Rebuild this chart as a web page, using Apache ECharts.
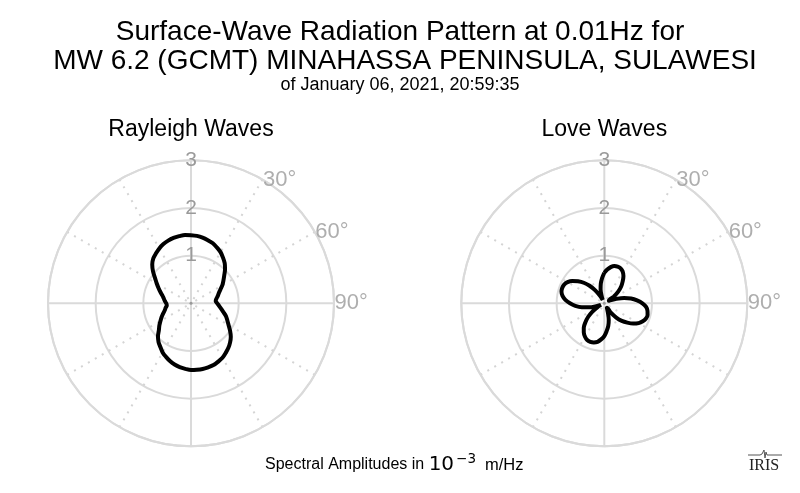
<!DOCTYPE html>
<html><head><meta charset="utf-8">
<script src="https://cdn.jsdelivr.net/npm/echarts@6/dist/echarts.min.js"></script>
<style>html,body{margin:0;padding:0;background:#fff}#c{width:800px;height:493px}</style>
</head><body><div id="c"></div>
<script>
const titleLines = ['Surface-Wave Radiation Pattern at 0.01Hz for', 'MW 6.2 (GCMT) MINAHASSA PENINSULA, SULAWESI', 'of January 06, 2021, 20:59:35'];
const panelTitles = ['Rayleigh Waves', 'Love Waves'];
const radiusMax = 3;
const radiusInterval = 1;
const angleLabelTicks = [30, 60, 90];
const azimuth = [0,5,10,15,20,25,30,35,40,45,50,55,60,65,70,75,80,85,90,95,100,105,110,115,
  120,125,130,135,140,145,150,155,160,165,170,175,180,185,190,195,200,205,210,215,220,225,230,235,
  240,245,250,255,260,265,270,275,280,285,290,295,300,305,310,315,320,325,330,335,340,345,350,355];
const rayleighAmplitude = [1.43,1.42,1.40,1.37,1.34,1.29,1.24,1.17,1.10,1.01,0.91,0.83,
  0.76,0.68,0.62,0.58,0.54,0.52,0.55,0.59,0.64,0.70,0.78,0.84,
  0.91,1.00,1.09,1.16,1.22,1.27,1.32,1.35,1.38,1.39,1.40,1.40,
  1.40,1.38,1.36,1.33,1.29,1.24,1.19,1.12,1.06,0.98,0.88,0.81,
  0.74,0.68,0.62,0.57,0.54,0.51,0.52,0.55,0.58,0.62,0.68,0.75,
  0.83,0.92,1.04,1.15,1.23,1.28,1.33,1.37,1.40,1.42,1.43,1.44];
const loveAmplitude = [0.64,0.71,0.77,0.81,0.82,0.81,0.77,0.70,0.60,0.50,0.38,0.24,
  0.11,0.12,0.27,0.43,0.57,0.69,0.80,0.88,0.92,0.94,0.93,0.89,
  0.83,0.74,0.63,0.52,0.39,0.24,0.11,0.11,0.23,0.36,0.48,0.58,
  0.69,0.76,0.82,0.85,0.86,0.85,0.81,0.75,0.67,0.56,0.44,0.31,
  0.17,0.08,0.18,0.33,0.48,0.61,0.72,0.82,0.89,0.93,0.94,0.93,
  0.89,0.82,0.72,0.61,0.48,0.33,0.18,0.08,0.16,0.30,0.42,0.53];
const unitsLabel = {pre: 'Spectral Amplitudes in ', base: '10', exp: '\u22123', post: 'm/Hz'};

const FONT = 'Liberation Sans, Arial, Helvetica, sans-serif';
const GRID = '#dadada';
const DOT = '#d4d4d4';
const LABEL = '#9a9a9a';

function closedLoop(az, amp) {
  const d = az.map((a, i) => [amp[i], a]);
  d.push([amp[0], az[0] + 360]);
  return d;
}

const centers = [[191, 303.3], [604.3, 303.3]];
const polar = centers.map(c => ({center: c, radius: 143}));
const angleAxis = centers.map((c, i) => ({
  polarIndex: i, type: 'value', min: 0, max: 360, interval: 90, startAngle: 90, clockwise: true,
  axisLine: {show: true, lineStyle: {color: GRID, width: 2}},
  axisTick: {show: false}, axisLabel: {show: false},
  splitLine: {show: true, lineStyle: {color: GRID, width: 2}},
  minorTick: {show: false, splitNumber: 3},
  minorSplitLine: {show: true, lineStyle: {color: DOT, width: 2, type: [2, 6]}}
}));
const radiusAxis = centers.map((c, i) => ({
  polarIndex: i, type: 'value', min: 0, max: radiusMax, interval: radiusInterval,
  axisLine: {show: false}, axisTick: {show: false},
  axisLabel: {show: true, margin: 0, align: 'center', verticalAlign: 'middle', color: LABEL, fontSize: 21, fontFamily: FONT, showMinLabel: false},
  splitLine: {show: true, lineStyle: {color: GRID, width: 2}}
}));

const series = [];
[rayleighAmplitude, loveAmplitude].forEach((amp, i) => {
  series.push({
    type: 'line', coordinateSystem: 'polar', polarIndex: i, data: closedLoop(azimuth, amp),
    smooth: 0.3, showSymbol: false, symbol: 'none', lineStyle: {color: '#000', width: 4}, z: 5, silent: true
  });
  series.push({
    type: 'scatter', coordinateSystem: 'polar', polarIndex: i,
    data: angleLabelTicks.map(a => [radiusMax, a]), symbolSize: 1, itemStyle: {color: 'rgba(0,0,0,0)'},
    label: {show: true, position: 'right', distance: 0, color: LABEL, fontSize: 22, fontFamily: FONT, formatter: q => q.value[1] + '\u00b0'},
    silent: true, z: 4
  });
  series.push({
    type: 'scatter', coordinateSystem: 'polar', polarIndex: i, data: [[0, 0]], symbolSize: 3,
    itemStyle: {color: '#888'}, silent: true, z: 3
  });
});

const plain = {fontWeight: 'normal', color: '#000', fontFamily: FONT};
const title = [
  {text: titleLines[0], left: 'center', top: 18, padding: 0, textStyle: Object.assign({fontSize: 28}, plain)},
  {text: titleLines[1], left: 405, textAlign: 'center', top: 47, padding: 0, textStyle: Object.assign({fontSize: 28}, plain)},
  {text: titleLines[2], left: 'center', top: 76, padding: 0, textStyle: Object.assign({fontSize: 18}, plain)},
  {text: panelTitles[0], left: centers[0][0], textAlign: 'center', top: 118, padding: 0, textStyle: Object.assign({fontSize: 23}, plain)},
  {text: panelTitles[1], left: centers[1][0], textAlign: 'center', top: 118, padding: 0, textStyle: Object.assign({fontSize: 23}, plain)},
  {text: '{a|' + unitsLabel.pre + '}{b|' + unitsLabel.base + '}{c|' + unitsLabel.exp + '}{d|' + unitsLabel.post + '}',
   left: 265, top: 452, padding: 0,
   textStyle: {fontWeight: 'normal', rich: {
     a: {fontSize: 16, fontFamily: FONT, fontWeight: 'normal', color: '#000', lineHeight: 26},
     b: {fontSize: 20, fontFamily: 'DejaVu Sans', fontWeight: 'normal', color: '#000', lineHeight: 26},
     c: {fontSize: 13.5, fontFamily: 'DejaVu Sans', fontWeight: 'normal', color: '#000', lineHeight: 26, padding: [0, 0, 12, 2]},
     d: {fontSize: 16.5, fontFamily: FONT, fontWeight: 'normal', color: '#000', lineHeight: 26, padding: [0, 0, 0, 9]}
   }}}
];

const graphic = [
  {type: 'text', left: 749, top: 458, style: {text: 'IRIS', font: '16px "Liberation Serif", "DejaVu Serif", serif', fill: '#222'}},
  {type: 'polyline', shape: {points: [[748,455],[760,455],[762,454],[764,450],[765,458],[766,452],[767,455],[782,455]]}, style: {stroke: '#555', lineWidth: 1, fill: null}}
];

const chart = echarts.init(document.getElementById('c'), null, {renderer: 'canvas'});
chart.setOption({animation: false, backgroundColor: '#fff', title, polar, angleAxis, radiusAxis, series, graphic});
</script></body></html>
